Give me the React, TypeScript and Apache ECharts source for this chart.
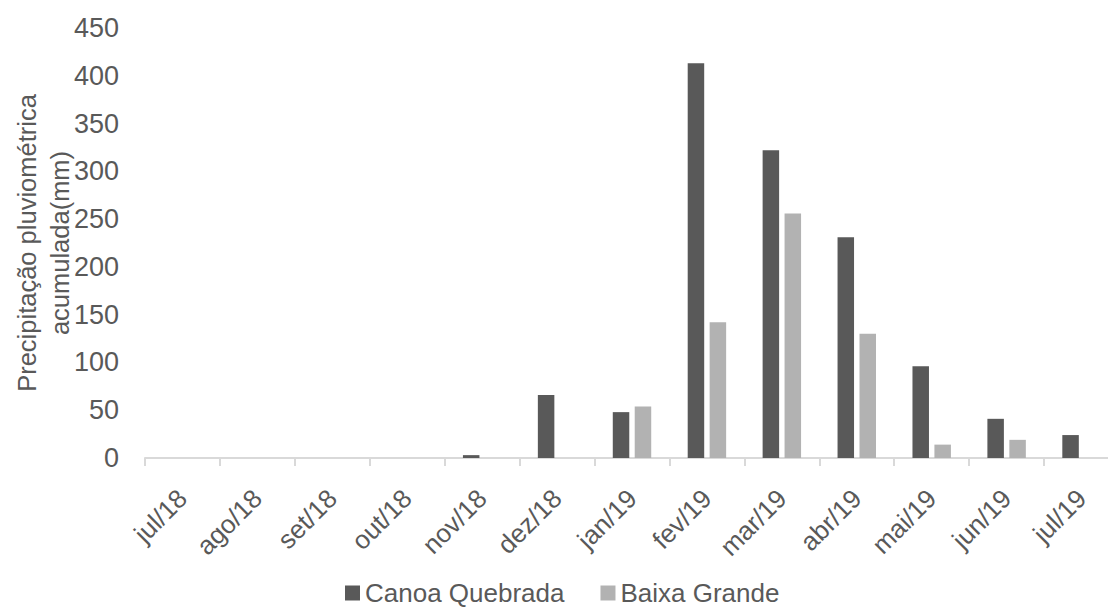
import React, { useEffect, useRef } from "react";
import * as echarts from "echarts";

const categories = ["jul/18", "ago/18", "set/18", "out/18", "nov/18", "dez/18", "jan/19", "fev/19", "mar/19", "abr/19", "mai/19", "jun/19", "jul/19"];
const canoaQuebrada = [0, 0, 0, 0, 3, 66, 48, 413, 322, 231, 96, 41, 24];
const baixaGrande = [0, 0, 0, 0, 0, 0, 54, 142, 256, 130, 14, 19, 0];
const yTicks = { min: 0, max: 450, interval: 50 };

const textColor = "#595959";
const fontFamily = "'Liberation Sans', Arial, sans-serif";

export default function App() {
  const ref = useRef<HTMLDivElement>(null);
  useEffect(() => {
    if (!ref.current) return;
    const chart = echarts.init(ref.current, undefined, { renderer: "svg" });
    chart.setOption({
      animation: false,
      backgroundColor: "#ffffff",
      textStyle: { fontFamily, color: textColor },
      grid: { left: 145, top: 28, width: 974, height: 430, containLabel: false, outerBoundsMode: "none" },
      legend: {
        bottom: -4,
        left: 340,
        itemWidth: 15,
        itemHeight: 15,
        itemGap: 36,
        icon: "rect",
        textStyle: { fontSize: 26, color: textColor, fontFamily, padding: [0, 0, 0, 0] },
        data: ["Canoa Quebrada", "Baixa Grande"],
      },
      xAxis: {
        type: "category",
        data: categories,
        boundaryGap: true,
        axisLine: { show: true, lineStyle: { color: "#d9d9d9", width: 2 } },
        axisTick: { show: true, length: 8, lineStyle: { color: "#d9d9d9", width: 2 } },
        axisLabel: { rotate: 45, fontSize: 26, color: textColor, fontFamily, margin: 36, interval: 0 },
      },
      yAxis: {
        type: "value",
        min: yTicks.min,
        max: yTicks.max,
        interval: yTicks.interval,
        axisLine: { show: false },
        axisTick: { show: false },
        splitLine: { show: false },
        axisLabel: { fontSize: 27, color: textColor, fontFamily, margin: 26 },
        name: "Precipitação pluviométrica\nacumulada(mm)",
        nameLocation: "middle",
        nameGap: 69,
        nameMoveOverlap: false,
        nameTextStyle: { fontSize: 25.5, color: textColor, fontFamily, lineHeight: 33 },
      },
      series: [
        {
          name: "Canoa Quebrada",
          type: "bar",
          data: canoaQuebrada,
          barWidth: 16.5,
          barGap: "33%",
          itemStyle: { color: "#595959" },
        },
        {
          name: "Baixa Grande",
          type: "bar",
          data: baixaGrande,
          barWidth: 16.5,
          itemStyle: { color: "#b2b2b2" },
        },
      ],
    });
    return () => chart.dispose();
  }, []);
  return (
    <div
      ref={ref}
      style={{ position: "absolute", left: 0, top: 0, width: 1108, height: 607, overflow: "hidden" }}
    />
  );
}
